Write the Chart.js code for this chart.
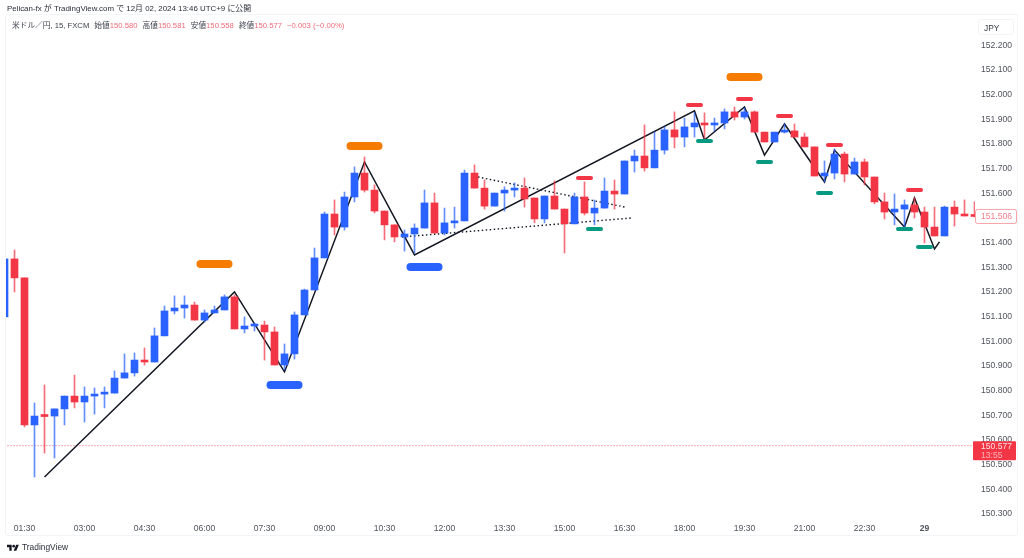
<!DOCTYPE html>
<html lang="ja">
<head>
<meta charset="utf-8">
<title>USDJPY 15</title>
<script src="https://cdn.jsdelivr.net/npm/chart.js@4"></script>
<style>
html,body{margin:0;padding:0;background:#fff;overflow:hidden}
#wrap{position:relative;width:1024px;height:558px;font-family:"Liberation Sans","Noto Sans CJK JP",sans-serif}
canvas{position:absolute;left:0;top:0}
.t{position:absolute;white-space:nowrap;line-height:1}
#pub{left:7px;top:5px;font-size:7.9px;color:#2a2e39}
#sym{left:12px;top:22px;font-size:7.7px;color:#3a3e49}
#sym b{font-weight:400;color:#ef6a76}
#sym span{margin-left:5px}
#panel{position:absolute;left:5px;top:14px;width:1011px;height:520px;border:1px solid #f3f4f7;border-radius:3px;box-sizing:content-box}
#jpy{position:absolute;left:978px;top:19px;width:36px;height:16px;border:1px solid #f3f4f7;border-radius:3px;font-size:8.4px;color:#3a3e49;line-height:16px;padding-left:5px;box-sizing:border-box}
#logo{position:absolute;left:7px;top:543px;width:12px;height:9px}
#tv{left:22px;top:543px;font-size:8.4px;color:#2a2e39}
</style>
</head>
<body>
<div id="wrap">
<div id="panel"></div>
<canvas id="c" width="1024" height="558"></canvas>
<div class="t" id="pub">Pelican-fx が TradingView.com で 12月 02, 2024 13:46 UTC+9 に公開</div>
<div class="t" id="sym">米ドル／円, 15, FXCM<span>始値<b>150.580</b></span><span>高値<b>150.581</b></span><span>安値<b>150.558</b></span><span>終値<b>150.577</b></span><span><b>−0.003 (−0.00%)</b></span></div>
<div id="jpy">JPY</div>
<svg id="logo" viewBox="0 0 36 24"><path fill="#131722" d="M14 22H7V11H0V4h14v18zM28 22h-8l7.5-18h8L28 22z"/><circle cx="20" cy="8" r="4" fill="#131722"/></svg>
<div class="t" id="tv">TradingView</div>
</div>
<script>
const opens=[151.099,151.334,151.257,150.661,150.699,150.697,150.726,150.778,150.754,150.778,150.786,150.790,150.851,150.872,150.924,150.916,151.022,151.123,151.135,151.147,151.086,151.115,151.127,151.180,151.050,151.062,151.066,151.038,150.904,150.949,151.107,151.208,151.338,151.516,151.463,151.585,151.682,151.613,151.528,151.472,151.423,151.435,151.459,151.561,151.439,151.480,151.488,151.682,151.621,151.548,151.601,151.613,151.621,151.581,151.496,151.589,151.536,151.476,151.585,151.520,151.540,151.609,151.597,151.731,151.751,151.703,151.775,151.857,151.828,151.869,151.885,151.877,151.885,151.930,151.909,151.930,151.848,151.808,151.848,151.853,151.828,151.788,151.670,151.682,151.759,151.678,151.727,151.666,151.565,151.524,151.536,151.553,151.524,151.463,151.427,151.544,151.516,151.508];
const highs=[151.334,151.370,151.257,150.750,150.823,150.726,150.778,150.863,150.815,150.811,150.815,150.880,150.949,150.953,150.973,151.054,151.143,151.184,151.184,151.159,151.127,151.143,151.188,151.188,151.099,151.074,151.082,151.058,150.989,151.119,151.212,151.378,151.524,151.573,151.605,151.707,151.747,151.634,151.528,151.472,151.451,151.476,151.613,151.601,151.540,151.544,151.694,151.715,151.654,151.601,151.626,151.642,151.662,151.581,151.589,151.650,151.536,151.601,151.646,151.573,151.662,151.654,151.731,151.775,151.877,151.848,151.869,151.930,151.905,151.926,151.926,151.905,151.942,151.950,151.946,151.934,151.848,151.848,151.881,151.881,151.844,151.788,151.731,151.780,151.767,151.743,151.739,151.666,151.601,151.597,151.573,151.581,151.544,151.544,151.548,151.569,151.573,151.565];
const lows=[151.099,151.200,150.653,150.450,150.547,150.527,150.661,150.730,150.673,150.705,150.730,150.790,150.851,150.859,150.904,150.916,151.022,151.111,151.094,151.086,151.078,151.115,151.127,151.050,151.034,151.042,150.924,150.904,150.884,150.928,151.107,151.208,151.338,151.431,151.451,151.565,151.605,151.520,151.411,151.403,151.366,151.358,151.459,151.439,151.431,151.459,151.488,151.621,151.536,151.548,151.528,151.585,151.544,151.480,151.480,151.536,151.358,151.476,151.512,151.472,151.540,151.536,151.597,151.686,151.690,151.703,151.759,151.784,151.788,151.828,151.824,151.853,151.861,151.897,151.901,151.848,151.808,151.808,151.844,151.828,151.788,151.670,151.646,151.658,151.646,151.678,151.634,151.557,151.496,151.472,151.463,151.500,151.399,151.427,151.427,151.467,151.508,151.504];
const closes=[151.334,151.257,150.661,150.697,150.695,150.726,150.778,150.754,150.778,150.786,150.790,150.851,150.872,150.924,150.916,151.022,151.123,151.135,151.147,151.086,151.115,151.127,151.180,151.050,151.062,151.066,151.038,150.904,150.949,151.107,151.208,151.338,151.516,151.463,151.585,151.682,151.613,151.528,151.472,151.423,151.435,151.459,151.561,151.439,151.480,151.488,151.682,151.621,151.548,151.601,151.613,151.621,151.577,151.496,151.589,151.536,151.476,151.585,151.520,151.540,151.609,151.597,151.731,151.751,151.703,151.775,151.857,151.828,151.869,151.885,151.877,151.885,151.930,151.909,151.930,151.848,151.808,151.848,151.853,151.828,151.788,151.670,151.682,151.759,151.678,151.727,151.666,151.565,151.524,151.536,151.553,151.524,151.463,151.427,151.544,151.516,151.508,151.506];

const timeTickIndex=[2,8,14,20,26,32,38,44,50,56,62,68,74,80,86,92];
const timeTickLabels=["01:30","03:00","04:30","06:00","07:30","09:00","10:30","12:00","13:30","15:00","16:30","18:00","19:30","21:00","22:30","29"];
const priceTicks=[150.3,150.4,150.5,150.6,150.7,150.8,150.9,151.0,151.1,151.2,151.3,151.4,151.5,151.6,151.7,151.8,151.9,152.0,152.1,152.2];

const zigzagIndex=[4,23,28,36,41,69,70,74,76,78,82,83,90,91,93,93.5];
const zigzagPrice=[150.45,151.2,150.876,151.727,151.35,151.934,151.816,151.95,151.755,151.881,151.646,151.775,151.463,151.581,151.374,151.403];
const upperDotIndex=[47.35,62.05];
const upperDotPrice=[151.666,151.544];
const lowerDotIndex=[39.75,62.75];
const lowerDotPrice=[151.423,151.5];

const orangeIndex=[21,36,74];
const orangePrice=[151.313,151.792,152.071];
const blueIndex=[28,42];
const bluePrice=[150.823,151.301];
const redIndex=[58,69,74,78,83,91];
const redPrice=[151.662,151.958,151.982,151.913,151.796,151.613];
const greenIndex=[59,70,76,82,90,92];
const greenPrice=[151.455,151.812,151.727,151.601,151.455,151.382];

const lastPrice=150.577;
const lastPriceLabel="150.577";
const countdownLabel="13:55";
const indicatorPrice=151.506;
const indicatorLabel="151.506";

const UP="#2962ff",DOWN="#f23645",ORANGE="#f57c00",GREEN="#089981";
const UPW="rgba(41,98,255,.72)",DOWNW="rgba(242,54,69,.72)";

const idx=opens.map((_,i)=>i);
const xy=(xs,ys)=>xs.map((x,i)=>({x,y:ys[i]}));
function pills(xs,ys,col,w,span){
  return xs.map((x,i)=>({type:"line",order:0,data:[{x:x-span,y:ys[i]},{x:x+span,y:ys[i]}],borderColor:col,borderWidth:w,borderCapStyle:"round",pointRadius:0,clip:false}));
}
const datasets=[
  {type:"line",order:5,data:xy(zigzagIndex,zigzagPrice),borderColor:"#131722",borderWidth:1.5,pointRadius:0,tension:0,borderJoinStyle:"miter"},
  {type:"line",order:5,data:xy(upperDotIndex,upperDotPrice),borderColor:"#131722",borderWidth:1.4,borderDash:[1.5,2.5],pointRadius:0},
  {type:"line",order:5,data:xy(lowerDotIndex,lowerDotPrice),borderColor:"#131722",borderWidth:1.4,borderDash:[1.5,2.5],pointRadius:0},
  {type:"line",order:6,data:[{x:0,y:lastPrice},{x:98,y:lastPrice}],borderColor:"rgba(242,54,69,.8)",borderWidth:1,borderDash:[1,2],pointRadius:0},
  {type:"bar",order:3,data:idx.map(i=>({x:i,y:[lows[i],highs[i]]})),backgroundColor:idx.map(i=>closes[i]>=opens[i]?UPW:DOWNW),barThickness:1,grouped:false},
  {type:"bar",order:2,data:idx.map(i=>({x:i,y:[opens[i],closes[i]]})),backgroundColor:idx.map(i=>closes[i]>=opens[i]?UP:DOWN),barThickness:7,minBarLength:2,grouped:false},
  ...pills(orangeIndex,orangePrice,ORANGE,8,1.4),
  ...pills(blueIndex,bluePrice,UP,8,1.4),
  ...pills(redIndex,redPrice,DOWN,4,0.65),
  ...pills(greenIndex,greenPrice,GREEN,4,0.65)
];

const tags={id:"tags",afterDraw(ch){
  const c=ch.ctx,y=ch.scales.y;
  c.save();
  const yp=y.getPixelForValue(indicatorPrice);
  c.fillStyle="#fff";c.strokeStyle="rgba(242,54,69,.45)";c.lineWidth=1;
  c.beginPath();c.roundRect(975.5,yp-7,41,14,2);c.fill();c.stroke();
  c.font='8.6px "Liberation Sans"';c.textBaseline="middle";c.textAlign="left";
  c.fillStyle="#ef7e88";c.fillText(indicatorLabel,981,yp+0.5);
  const yl=y.getPixelForValue(lastPrice);
  c.fillStyle="#f23645";
  c.beginPath();c.roundRect(973,yl-4.5,43,19,1);c.fill();
  c.fillStyle="rgba(255,255,255,.85)";c.fillText(lastPriceLabel,981,yl+1);
  c.fillStyle="rgba(255,255,255,.6)";c.fillText(countdownLabel,981,yl+10);
  c.restore();
}};

new Chart(document.getElementById("c"),{
  data:{datasets},
  plugins:[tags],
  options:{
    responsive:false,animation:false,devicePixelRatio:1,
    layout:{padding:{left:6,top:15,right:0,bottom:0}},
    plugins:{legend:{display:false},tooltip:{enabled:false},title:{display:false}},
    scales:{
      x:{type:"linear",offset:false,min:0.15,max:97.05,
        grid:{display:false,drawTicks:false,offset:false},border:{display:false},
        afterBuildTicks(s){s.ticks=timeTickIndex.map(v=>({value:v}));},
        afterFit(s){s.height=41;},
        ticks:{autoSkip:false,maxRotation:0,padding:6,color:"#50535e",
          font:(ctx)=>({family:'"Liberation Sans"',size:8.6,weight:ctx.tick&&ctx.tick.value===92?"bold":"normal"}),
          callback:(v)=>timeTickLabels[timeTickIndex.indexOf(v)]}},
      y:{type:"linear",position:"right",min:150.2878,max:152.3227,
        grid:{display:false,drawTicks:false},border:{display:false},
        afterBuildTicks(s){s.ticks=priceTicks.map(v=>({value:v}));},
        afterFit(s){s.width=49;},
        ticks:{padding:6,color:"#50535e",font:{family:'"Liberation Sans"',size:8.6},
          callback:(v)=>v.toFixed(3)}}
    }
  }
});
</script>
</body>
</html>
